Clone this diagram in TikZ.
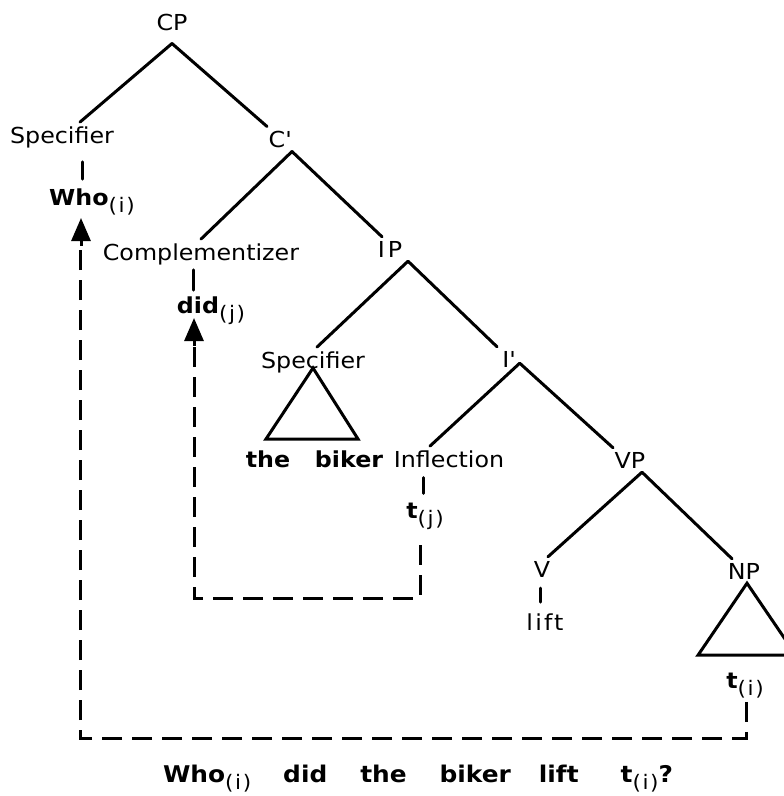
\documentclass[tikz,border=0pt]{standalone}
\usepackage{fontspec}
\setmainfont{DejaVu Sans}[FakeStretch=1.08]
\usetikzlibrary{arrows.meta,calc}
\newcommand\subx[1]{\raisebox{-7pt}{\fontsize{20}{20}\selectfont\mdseries\addfontfeatures{LetterSpace=8}#1}}
\begin{document}
\begin{tikzpicture}[x=1pt,y=-1pt,
  every node/.style={font=\fontsize{22}{24}\selectfont, inner sep=4pt, anchor=base},
  edge/.style={line width=3pt, line cap=round},
  tri/.style={line width=3pt, line join=miter},
  mv/.style={line width=3pt, dash pattern=on 20pt off 10pt},
  tip/.style={line width=3pt, -{Triangle[length=23pt,width=19pt]}},
  bw/.style={font=\fontsize{22}{24}\selectfont\bfseries}]
\path[use as bounding box, fill=white] (0,0) rectangle (784,796);

% nodes
\node[inner ysep=13pt] (CP) at (172,30) {CP};
\node (S1) at (62,143) {Specifier};
\node (Cb) at (280,147) {C\textquotesingle};
\node (Who) at (92,205) {\textbf{Who}\subx{(i)}};
\node (Comp) at (201,260) {Complementizer};
\node (IP) at (390,257) {I\hspace{3pt}P};
\node (did) at (211,313) {\textbf{did}\subx{(j)}};
\node (S2) at (313,368) {Specifier};
\node (Ib) at (509,367) {I\textquotesingle};
\node[bw] (the) at (268,467) {the};
\node[bw] (biker) at (349,467) {biker};
\node (Infl) at (449,467) {Inflection};
\node (tj) at (425,518) {\textbf{t}\subx{(j)}};
\node (VP) at (630,468) {VP};
\node (V) at (542,577) {V};
\node (NP) at (744,579) {NP};
\node (lift) at (545,630) {\addfontfeatures{LetterSpace=10}lift};
\node (ti) at (745,688) {\textbf{t}\subx{(i)}};
\node[font=\fontsize{23}{26}\selectfont\bfseries] (cap) at (418,782) {Who\subx{(i)}\hspace{32pt}did\hspace{33pt}the\hspace{33pt}biker\hspace{28pt}lift\hspace{42pt}t\subx{(i)}?};

% apex coordinates
\coordinate (CbA) at ([xshift=12pt]Cb.south);
\coordinate (IPA) at ([xshift=18pt]IP.south);
\coordinate (IbA) at ([yshift=8pt]Ib.south east);
\coordinate (VPA) at ([xshift=12pt]VP.south);

% tree edges
\draw[edge] (CP.south) -- ([xshift=18pt]S1.north);
\draw[edge] (CP.south) -- ([xshift=-13pt]Cb.north);
\draw[edge] (CbA) -- (Comp.north);
\draw[edge] (CbA) -- ([xshift=-8pt]IP.north);
\draw[edge] (IPA) -- ([xshift=4pt]S2.north);
\draw[edge] (IPA) -- ([xshift=-12pt]Ib.north);
\draw[edge] (IbA) -- ([xshift=-19pt]Infl.north);
\draw[edge] (IbA) -- ([xshift=-17pt]VP.north);
\draw[edge] (VPA) -- ([xshift=6pt]V.north);
\draw[edge] (VPA) -- ([xshift=-12pt]NP.north);

% triangles
\draw[tri] (S2.base) -- ++(-47,71) -- ++(92,0) -- cycle;
\draw[tri] ([xshift=3pt]NP.south) -- ++(-49,72) -- ++(98,0) -- cycle;

% short verticals
\draw[edge, shorten <=10pt, shorten >=5pt] ([xshift=20pt]S1.south) -- ([xshift=20pt]S1.south |- Who.north);
\draw[edge, shorten <=1pt, shorten >=2pt] ([xshift=-8pt]Comp.south) -- ([xshift=-8pt]Comp.south |- did.north);
\draw[edge, shorten <=6pt, shorten >=5pt] ([xshift=-26pt]Infl.south) -- ([xshift=-26pt]Infl.south |- tj.north);
\draw[edge, shorten <=7pt, shorten >=7pt] ([xshift=-2pt]V.south) -- ([xshift=-2pt]V.south |- lift.north);

% movement j
\coordinate (jstart) at ([shift={(-5pt,-12pt)}]tj.south);
\coordinate (jtip) at ([shift={(-17pt,-5pt)}]did.base);
\coordinate (jcorner) at (jstart |- 0,598);
\draw[mv] (jstart) -- (jcorner) -| ($(jtip)+(0,29)$);
\draw[tip] ($(jtip)+(0,28)$) -- (jtip);

% movement i
\coordinate (istart) at ([xshift=1pt]ti.south);
\coordinate (itip) at ([shift={(-11pt,-13pt)}]Who.base);
\coordinate (icorner) at (istart |- 0,738);
\draw[mv] (istart) -- (icorner) -| ($(itip)+(-1,29)$);
\draw[tip] ($(itip)+(0,28)$) -- (itip);
\end{tikzpicture}
\end{document}
